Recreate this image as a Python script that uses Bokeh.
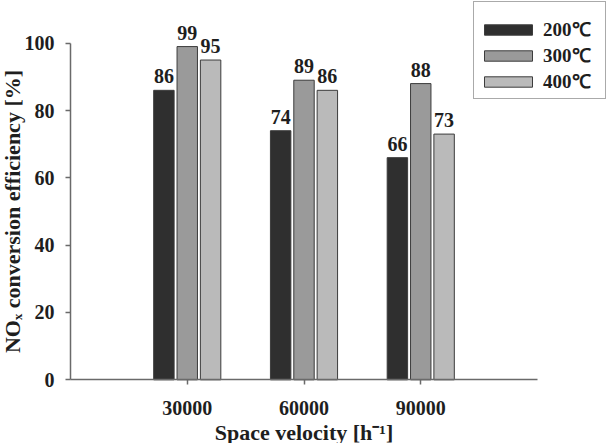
import numpy as np
from bokeh.plotting import figure
from bokeh.models import Range1d, FixedTicker, Legend, LegendItem, ColumnDataSource
from bokeh.core.properties import value
from bokeh.embed import file_html
from bokeh.resources import INLINE

# NOx conversion efficiency (%) versus space velocity, per reaction temperature
categories = ["30000", "60000", "90000"]
temperatures = ["200\u2103", "300\u2103", "400\u2103"]
eff_200 = [86, 74, 66]
eff_300 = [99, 89, 88]
eff_400 = [95, 86, 73]
y_ticks = [0, 20, 40, 60, 80, 100]

series = [eff_200, eff_300, eff_400]
fills = ["#2f2f2f", "#9a9a9a", "#bababa"]
offsets = [-0.2, 0.0, 0.2]
bar_width = 0.175

FONT = "Liberation Serif"
TEXT_COLOR = "#1e1e1e"
AXIS_COLOR = "#6a6a6a"

W, H = 616, 443
# pixel scale of the data axes: 116.75 px per category step, 3.366 px per percent
PX_X, PX_Y = 116.75, 3.366
ORIGIN_X, ORIGIN_Y = 70.0, 63.7   # axis origin, from left and from bottom edge

positions = np.arange(1, len(categories) + 1)

x0 = -ORIGIN_X / PX_X
y0 = -ORIGIN_Y / PX_Y
p = figure(
    width=W, height=H,
    x_range=Range1d(x0, x0 + W / PX_X), y_range=Range1d(y0, y0 + H / PX_Y),
    output_backend="svg", toolbar_location=None,
    min_border_left=0, min_border_right=0, min_border_top=0, min_border_bottom=0,
    outline_line_color=None,
)
p.xgrid.visible = False
p.ygrid.visible = False

renderers = []
for vals, fill, off in zip(series, fills, offsets):
    src = ColumnDataSource(dict(x=positions + off, top=vals, label=[str(v) for v in vals]))
    r = p.vbar(x="x", top="top", width=bar_width, source=src,
               fill_color=fill, line_color="#3c3c3c", line_width=1)
    renderers.append(r)
    p.text(x="x", y="top", text="label", source=src,
           text_align="center", text_baseline="alphabetic", y_offset=-14,
           text_font=value(FONT), text_font_style="bold", text_font_size="20px",
           text_color=TEXT_COLOR)

# axes pinned at the data origin
xa = p.xaxis[0]
xa.fixed_location = 0
xa.bounds = (0, 4)
xa.ticker = FixedTicker(ticks=list(positions))
xa.major_label_overrides = {int(k): c for k, c in zip(positions, categories)}
xa.axis_label = "Space velocity [h\u207b\u00b9]"
xa.axis_label_standoff = 2

ya = p.yaxis[0]
ya.fixed_location = 0
ya.bounds = (0, 100)
ya.ticker = FixedTicker(ticks=y_ticks)
ya.axis_label = "NO\u2093 conversion efficiency [%]"
ya.axis_label_standoff = -3

for ax in (xa, ya):
    ax.axis_line_color = AXIS_COLOR
    ax.axis_line_width = 1.5
    ax.major_tick_line_color = AXIS_COLOR
    ax.major_tick_line_width = 1.5
    ax.major_tick_in = 0
    ax.major_tick_out = 5
    ax.minor_tick_line_color = None
    ax.major_label_text_font = FONT
    ax.major_label_text_font_style = "bold"
    ax.major_label_text_font_size = "20px"
    ax.major_label_text_color = TEXT_COLOR
    ax.axis_label_text_font = FONT
    ax.axis_label_text_font_style = "bold"
    ax.axis_label_text_color = TEXT_COLOR
xa.axis_label_text_font_size = "22px"
ya.axis_label_text_font_size = "22px"
xa.major_label_standoff = 16
ya.major_label_standoff = 11

legend = Legend(
    items=[LegendItem(label=t, renderers=[r]) for t, r in zip(temperatures, renderers)],
    location=(473, 344),
    title=" ", title_text_font_size="1px", title_standoff=9,
    glyph_width=60, glyph_height=13, label_standoff=5, label_height=26, label_width=58,
    spacing=0, padding=4, margin=0,
    label_text_font=FONT, label_text_font_style="bold", label_text_font_size="19px",
    label_text_color=TEXT_COLOR,
    border_line_color="#555555", border_line_width=1.5,
    background_fill_color="white", background_fill_alpha=1,
)
p.add_layout(legend)

open("out.html", "w").write(file_html(p, INLINE))
